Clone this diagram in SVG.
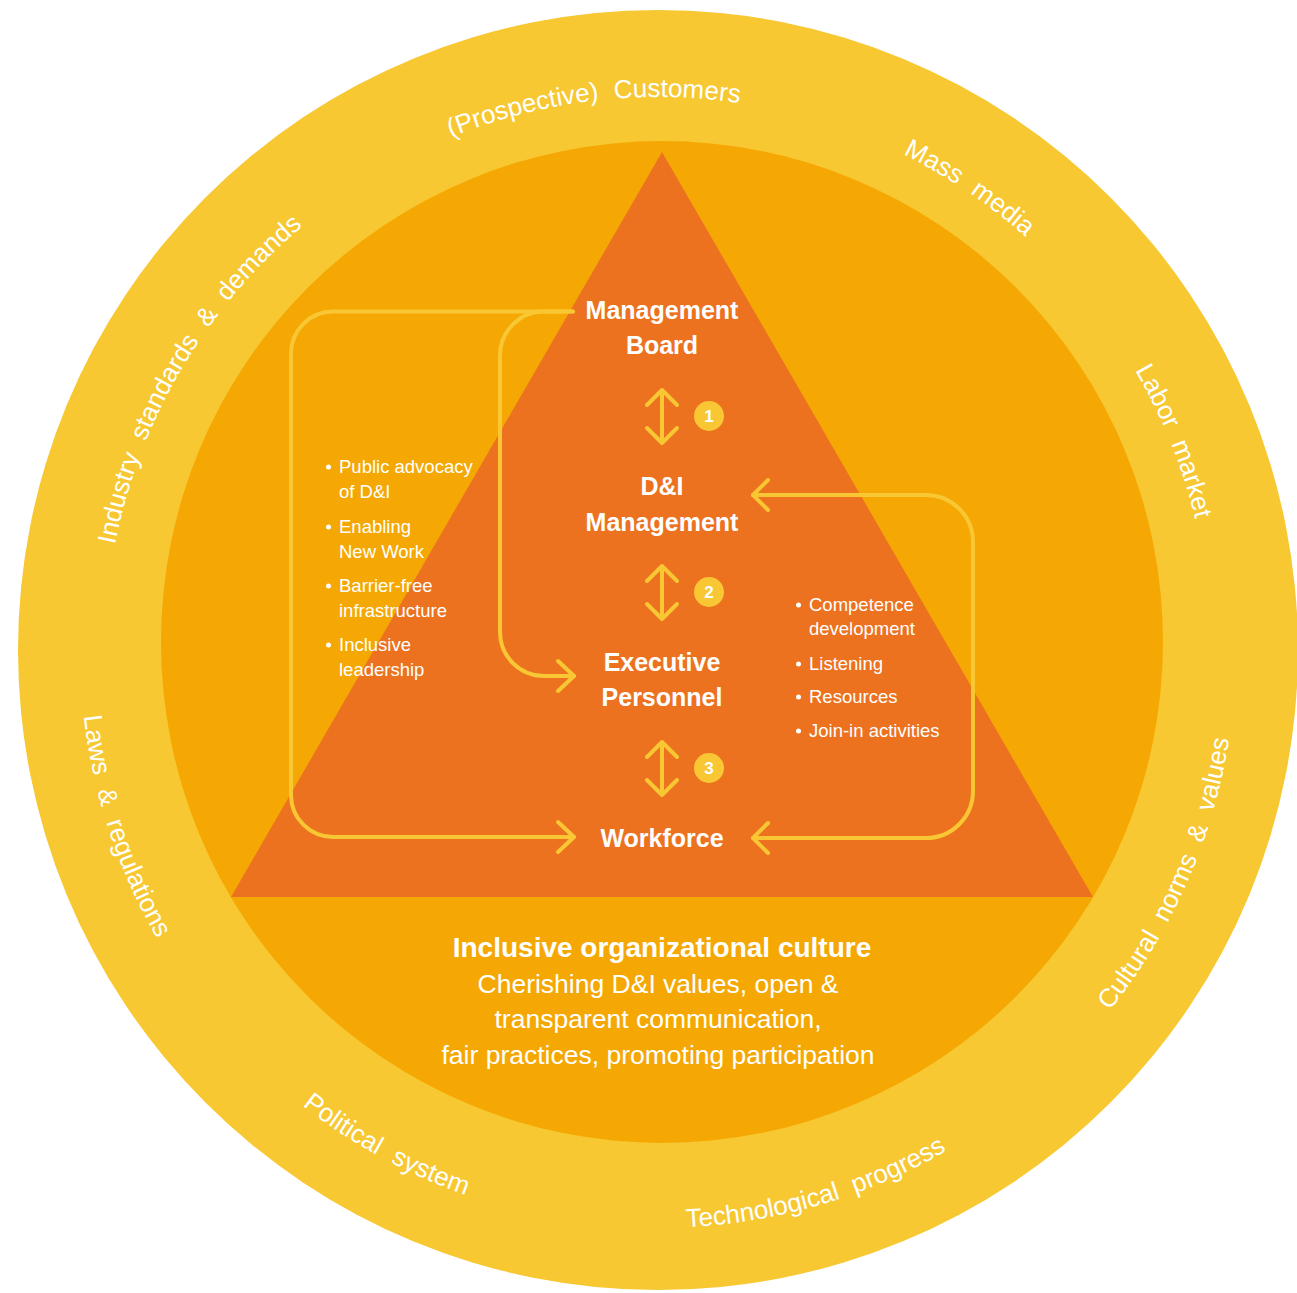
<svg xmlns="http://www.w3.org/2000/svg" width="1297" height="1293" viewBox="0 0 1297 1293">
<style>
.ring{font-family:"Liberation Sans","Noto Sans",sans-serif;font-size:26px;fill:#fff;word-spacing:8px}
.title{font-family:"Liberation Sans","Noto Sans",sans-serif;font-size:25px;font-weight:bold;fill:#fff;text-anchor:middle}
.list{font-family:"Liberation Sans","Noto Sans",sans-serif;font-size:18.5px;fill:#fff}
.bullet{fill:#fff}
.num{font-family:"Liberation Sans","Noto Sans",sans-serif;font-size:17px;font-weight:bold;fill:#fff;text-anchor:middle}
.conn{fill:none;stroke:#F8C733;stroke-width:4;stroke-linecap:round;stroke-linejoin:round}
.culture{font-family:"Liberation Sans","Noto Sans",sans-serif;fill:#fff;text-anchor:middle}
</style>
<defs>
<path id="cw" d="M658,1203 A553,553 0 1 1 658,97 A553,553 0 1 1 658,1203"/>
<path id="ccw" d="M658,72 A578,578 0 1 0 658,1228 A578,578 0 1 0 658,72"/>
</defs>
<g id="outer-ring">
<circle cx="658" cy="650" r="640" fill="#F7C832"/>
</g>
<g id="inner-circle">
<circle cx="662" cy="642" r="501" fill="#F5A803"/>
</g>
<g id="pyramid">
<polygon points="662,152 231,897 1093,897" fill="#EC7220"/>
</g>
<g id="ring-labels">
<text class="ring"><textPath href="#cw" startOffset="1672" text-anchor="middle">(Prospective) Customers</textPath></text>
<text class="ring"><textPath href="#cw" startOffset="2065" text-anchor="middle">Mass media</textPath></text>
<text class="ring"><textPath href="#cw" startOffset="2393" text-anchor="middle">Labor market</textPath></text>
<text class="ring"><textPath href="#cw" startOffset="1163" text-anchor="middle">Industry standards &amp; demands</textPath></text>
<text class="ring"><textPath href="#ccw" startOffset="1092" text-anchor="middle">Laws &amp; regulations</textPath></text>
<text class="ring"><textPath href="#ccw" startOffset="1526" text-anchor="middle">Political system</textPath></text>
<text class="ring"><textPath href="#ccw" startOffset="1981" text-anchor="middle">Technological progress</textPath></text>
<text class="ring"><textPath href="#ccw" startOffset="2484" text-anchor="middle">Cultural norms &amp; values</textPath></text>
</g>
<g id="connectors">
<path class="conn" d="M573,311.5 H333 A42,42 0 0 0 291,353.5 V795 A42,42 0 0 0 333,837 H574"/>
<path class="conn" d="M558,822 L574,837 L558,852"/>
<path class="conn" d="M573,311.5 H544 A44,44 0 0 0 500,355.5 V632 A44,44 0 0 0 544,676 H574"/>
<path class="conn" d="M558,661 L574,676 L558,691"/>
<path class="conn" d="M753,495 H926 A47,47 0 0 1 973,542 V791 A47,47 0 0 1 926,838 H753"/>
<path class="conn" d="M768,480 L753,495 L768,510"/>
<path class="conn" d="M768,823 L753,838 L768,853"/>
<path class="conn" d="M662,390 V443 M647,405 L662,390 L677,405 M647,428 L662,443 L677,428"/>
<path class="conn" d="M662,566 V619 M647,581 L662,566 L677,581 M647,604 L662,619 L677,604"/>
<path class="conn" d="M662,742 V795 M647,757 L662,742 L677,757 M647,780 L662,795 L677,780"/>
</g>
<g id="step-1">
<circle cx="709" cy="416" r="15" fill="#F8C733"/>
<text class="num" x="709" y="422">1</text>
</g>
<g id="step-2">
<circle cx="709" cy="592" r="15" fill="#F8C733"/>
<text class="num" x="709" y="598">2</text>
</g>
<g id="step-3">
<circle cx="709" cy="768" r="15" fill="#F8C733"/>
<text class="num" x="709" y="774">3</text>
</g>
<g id="management-board">
<text class="title" x="662" y="319">Management</text>
<text class="title" x="662" y="354">Board</text>
</g>
<g id="di-management">
<text class="title" x="662" y="495">D&amp;I</text>
<text class="title" x="662" y="531">Management</text>
</g>
<g id="executive-personnel">
<text class="title" x="662" y="671">Executive</text>
<text class="title" x="662" y="706">Personnel</text>
</g>
<g id="workforce">
<text class="title" x="662" y="847">Workforce</text>
</g>
<g id="left-list">
<circle class="bullet" cx="328.5" cy="467" r="2.5"/>
<text class="list" x="339" y="473">Public advocacy</text>
<text class="list" x="339" y="498">of D&amp;I</text>
<circle class="bullet" cx="328.5" cy="527" r="2.5"/>
<text class="list" x="339" y="533">Enabling</text>
<text class="list" x="339" y="558">New Work</text>
<circle class="bullet" cx="328.5" cy="586" r="2.5"/>
<text class="list" x="339" y="592">Barrier-free</text>
<text class="list" x="339" y="617">infrastructure</text>
<circle class="bullet" cx="328.5" cy="645" r="2.5"/>
<text class="list" x="339" y="651">Inclusive</text>
<text class="list" x="339" y="676">leadership</text>
</g>
<g id="right-list">
<circle class="bullet" cx="798.5" cy="605" r="2.5"/>
<text class="list" x="809" y="611">Competence</text>
<text class="list" x="809" y="635">development</text>
<circle class="bullet" cx="798.5" cy="664" r="2.5"/>
<text class="list" x="809" y="670">Listening</text>
<circle class="bullet" cx="798.5" cy="697" r="2.5"/>
<text class="list" x="809" y="703">Resources</text>
<circle class="bullet" cx="798.5" cy="731" r="2.5"/>
<text class="list" x="809" y="737">Join-in activities</text>
</g>
<g id="culture">
<text class="culture" x="662" y="957" font-size="28" font-weight="bold">Inclusive organizational culture</text>
<text class="culture" x="658" y="993" font-size="26.5">Cherishing D&amp;I values, open &amp;</text>
<text class="culture" x="658" y="1028" font-size="26.5">transparent communication,</text>
<text class="culture" x="658" y="1064" font-size="26.5">fair practices, promoting participation</text>
</g>
</svg>
